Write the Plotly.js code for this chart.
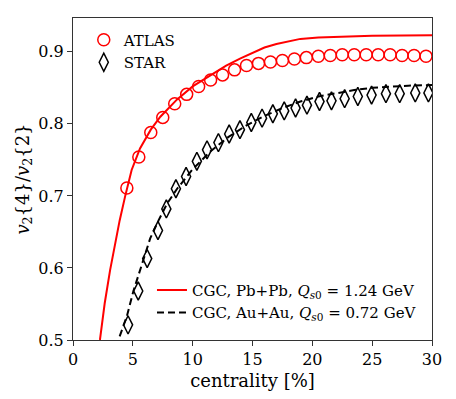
<!DOCTYPE html>
<html>
<head>
<meta charset="utf-8">
<script src="https://cdn.plot.ly/plotly-3.0.1.min.js"></script>
<style>
  body { margin: 0; background: #fff; }
  #plot { width: 456px; height: 399px; }
</style>
</head>
<body>
<div id="plot"></div>
<script>
// ATLAS data (Pb+Pb)
var atlasX = [4.5, 5.5, 6.5, 7.5, 8.5, 9.5, 10.5, 11.5, 12.5, 13.5, 14.5, 15.5, 16.5,
              17.5, 18.5, 19.5, 20.5, 21.5, 22.5, 23.5, 24.5, 25.5, 26.5, 27.5, 28.5, 29.5];
var atlasY = [0.711, 0.754, 0.788, 0.809, 0.828, 0.841, 0.852, 0.861, 0.868, 0.875, 0.881, 0.884, 0.886,
              0.888, 0.890, 0.892, 0.894, 0.895, 0.896, 0.896, 0.896, 0.896, 0.896, 0.895, 0.895, 0.894];

// STAR data (Au+Au)
var starX = [4.6, 5.45, 6.2, 7.1, 7.8, 8.6, 9.45, 10.35, 11.2, 12.15, 13.05, 13.95, 14.9, 15.8,
             16.7, 17.65, 18.6, 19.55, 20.6, 21.6, 22.7, 23.8, 24.95, 26.15, 27.3, 28.6, 29.7];
var starY = [0.521, 0.568, 0.613, 0.652, 0.682, 0.710, 0.727, 0.748, 0.764, 0.774, 0.786, 0.792, 0.802, 0.808,
             0.814, 0.818, 0.822, 0.826, 0.831, 0.832, 0.835, 0.838, 0.840, 0.842, 0.842, 0.843, 0.843];

// CGC curves
var cgcPbX = [2.25, 2.65, 3.1, 3.5, 3.9, 4.35, 4.9, 5.6, 6.5, 7.3, 8.7, 10.0, 11.5,
              12.8, 14.0, 15.0, 16.0, 17.0, 18.0, 19.0, 20.5, 22.5, 25.0, 30.0];
var cgcPbY = [0.500, 0.551, 0.597, 0.634, 0.666, 0.699, 0.736, 0.766, 0.792, 0.810, 0.834, 0.852, 0.868,
              0.881, 0.891, 0.899, 0.906, 0.911, 0.915, 0.918, 0.920, 0.9215, 0.9225, 0.923];

var cgcAuX = [3.9, 4.5, 5.05, 5.75, 6.45, 7.15, 7.85, 8.7, 10, 11.5, 13, 14.5, 16, 17.5, 19, 20.5,
              22, 23.5, 25, 26.5, 28, 30];
var cgcAuY = [0.505, 0.533, 0.568, 0.606, 0.641, 0.666, 0.689, 0.710, 0.737, 0.762, 0.782, 0.798, 0.811, 0.822, 0.831, 0.838,
              0.843, 0.847, 0.850, 0.852, 0.853, 0.854];

var serif = 'DejaVu Serif';

var traces = [
    {
        x: cgcPbX, y: cgcPbY, mode: 'lines', line: {color: 'red', width: 2},
        name: 'CGC, Pb+Pb, <i>Q</i><sub><i>s</i>0</sub> = 1.24 GeV', legend: 'legend2'
    },
    {
        x: cgcAuX, y: cgcAuY, mode: 'lines', line: {color: 'black', width: 2, dash: '7px,4px'},
        name: 'CGC, Au+Au, <i>Q</i><sub><i>s</i>0</sub> = 0.72 GeV', legend: 'legend2'
    },
    {
        x: atlasX, y: atlasY, mode: 'markers', name: 'ATLAS',
        marker: {symbol: 'circle-open', size: 12, color: 'red', line: {width: 1.5, color: 'red'}}
    },
    {
        x: starX, y: starY, mode: 'markers', name: 'STAR',
        marker: {symbol: 'diamond-tall-open', size: 13, color: 'black', line: {width: 1.5, color: 'black'}}
    }
];

var layout = {
    width: 456,
    height: 399,
    margin: {l: 73, r: 24, t: 18, b: 59},
    paper_bgcolor: 'white',
    plot_bgcolor: 'white',
    font: {family: serif, size: 16, color: 'black'},
    showlegend: true,
    legend: {
        x: 0.03, y: 0.983, xanchor: 'left', yanchor: 'top',
        bgcolor: 'rgba(0,0,0,0)', font: {family: serif, size: 15}
    },
    legend2: {
        x: 0.22, y: 0.035, xanchor: 'left', yanchor: 'bottom',
        bgcolor: 'rgba(0,0,0,0)', font: {family: serif, size: 15}
    },
    xaxis: {
        range: [0, 30],
        tickvals: [0, 5, 10, 15, 20, 25, 30],
        ticks: 'outside', ticklen: 5, tickcolor: '#333',
        tickfont: {family: serif, size: 16},
        showgrid: false, zeroline: false,
        showline: true, mirror: true, linecolor: '#333', linewidth: 1,
        title: {text: 'centrality [%]', font: {family: serif, size: 18}, standoff: 6}
    },
    yaxis: {
        range: [0.5, 0.947],
        tickvals: [0.5, 0.6, 0.7, 0.8, 0.9],
        ticktext: ['0.5', '0.6', '0.7', '0.8', '0.9'],
        ticks: 'outside', ticklen: 5, tickcolor: '#333',
        tickfont: {family: serif, size: 16},
        showgrid: false, zeroline: false,
        showline: true, mirror: true, linecolor: '#333', linewidth: 1,
        title: {text: '<i>v</i><sub>2</sub>{4}/<i>v</i><sub>2</sub>{2}', font: {family: serif, size: 18}, standoff: 4}
    }
};

Plotly.newPlot('plot', traces, layout, {displayModeBar: false, staticPlot: true});
</script>
</body>
</html>
